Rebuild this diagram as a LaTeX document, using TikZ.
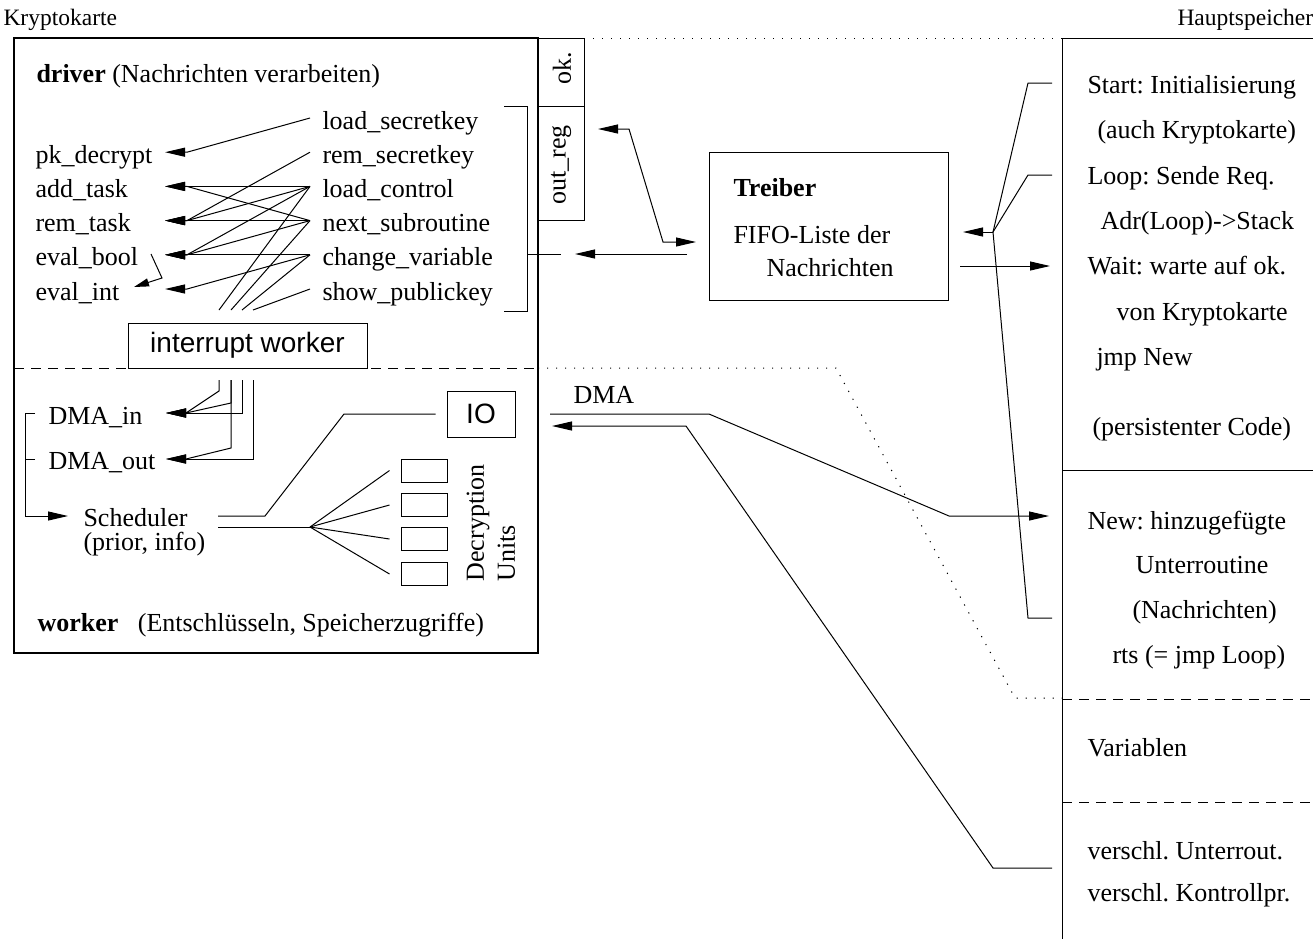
\documentclass[tikz,border=0pt]{standalone}
\usepackage{fontspec}
\setmainfont{Liberation Serif}
\setsansfont{Liberation Sans}
\usetikzlibrary{arrows.meta}
\frenchspacing

\tikzset{
  lbl/.style={anchor=base west, inner sep=0pt},
  titlefont/.style={font=\fontsize{23.5}{28}\selectfont},
  sans/.style={font=\sffamily\fontsize{28}{34}\selectfont},
  arr/.style={-{Triangle[length=20pt,width=9pt]}},
  arrs/.style={-{Triangle[length=15pt,width=8pt]}},
  dashline/.style={dash pattern=on 10pt off 7pt},
  dotline/.style={dash pattern=on 1.2pt off 7.8pt},
}

\begin{document}
\begin{tikzpicture}[x=1pt, y=-1pt, line width=1pt, every node/.style={inner sep=0pt}]
  \fontsize{26}{31}\selectfont
  \useasboundingbox (0,0) rectangle (1313,938);
  % Titles
  \node[lbl, titlefont] (kk) at (3,25) {Kryptokarte};
  \node[lbl, titlefont] (hs) at (1177,25) {Hauptspeicher};
  % Kryptokarte
  \draw[line width=2pt] (14,38) rectangle (538,653);
  \draw (538,38) rectangle (584,106) (538,106) rectangle (584,220);
  \node[rotate=90] (ok) at (562,68) {ok.};
  \node[rotate=90] (outreg) at (561,165) {out\_reg};
  \draw[dotline] (584,38) -- (1062,38);
  % driver
  \node[lbl] (driver) at (36,82) {\textbf{driver} (Nachrichten verarbeiten)};
  \foreach \n/\t [count=\i from 0] in {lsk/load\_secretkey, rsk/rem\_secretkey,
      lctl/load\_control, nsub/next\_subroutine, cvar/change\_variable, spk/show\_publickey} {
    \node[lbl] (\n) at (322,{129+34.2*\i}) {\t};
    \coordinate (\n-o) at (310,{118+34.2*\i});
  }
  \foreach \n/\t [count=\i] in {pk/pk\_decrypt, addt/add\_task, remt/rem\_task,
      evb/eval\_bool, evi/eval\_int} {
    \node[lbl] (\n) at (35,{129+34.2*\i}) {\t};
    \coordinate (\n-t) at (165,{118+34.2*\i});
    \coordinate (\n-b) at (187,{118+34.2*\i});
  }
  \foreach \a/\b in {lsk/pk, rsk/remt, lctl/addt, lctl/remt, lctl/evb,
      nsub/addt, nsub/remt, nsub/evb, cvar/evb, cvar/evi}
    \draw[arr] (\a-o) -- (\b-b) -- (\b-t);
  \coordinate (evb-r) at (151,254);
  \coordinate (evi-r) at (134,287);
  \draw[arrs] (evb-r) -- ++(11,24) -- (evi-r);
  % bracket to out_reg
  \draw (504,106) -| (527,311) -- (504,311);
  \coordinate (drv-r) at (561,254);
  \draw (527,254) -- (drv-r);
  % interrupt worker
  \node[draw, sans, minimum width=239, minimum height=45] (iw) at (247.5,345.5) {interrupt worker};
  \foreach \a/\x [count=\i] in {lctl/219, nsub/231, cvar/242, spk/253} {
    \coordinate (iwt\i) at (\x,310);
    \coordinate (iwb\i) at (\x,380);
    \draw (\a-o) -- (iwt\i);
  }
  % separators
  \draw[dashline] (14,368) -- (538,368);
  \draw[dotline] (538,368) -- (836,368) -- (1015,698) -- (1062,698);
  % worker
  \node[lbl] (dmain) at (48,424) {DMA\_in};
  \node[lbl] (dmaout) at (48,469) {DMA\_out};
  \coordinate (dmain-t) at (166,413);
  \coordinate (dmain-b) at (186,413);
  \coordinate (dmaout-t) at (166,459);
  \coordinate (dmaout-b) at (186,459);
  \draw[arr] (iwb1) -- ++(0,11) -- (dmain-b) -- (dmain-t);
  \draw[arr] (iwb2) -- ++(0,23) -- (dmain-b) -- (dmain-t);
  \draw[arr] (iwb2) -- ++(0,68) -- (dmaout-b) -- (dmaout-t);
  \draw[arr] (iwb3) |- (dmain-t);
  \draw[arr] (iwb4) |- (dmaout-t);
  \node[lbl] (sched) at (83,526) {Scheduler};
  \node[lbl] (prior) at (83,550) {(prior, info)};
  \coordinate (dmain-l) at (35,413);
  \coordinate (dmaout-l) at (35,459);
  \coordinate (sched-in) at (68,516);
  \draw[arr] (dmain-l) -- (25,413) |- (sched-in);
  \draw (dmaout-l) -- (25,459);
  \node[draw, sans, minimum width=68, minimum height=46] (io) at (481,414) {IO};
  \coordinate (sched-up) at (218,516);
  \coordinate (sched-lo) at (218,527);
  \coordinate (fan) at (310,527);
  \draw (sched-up) -- ++(47,0) -- (344,414) -- ([xshift=-11pt]io.west);
  \draw (sched-lo) -- (fan);
  \foreach \y [count=\i] in {470.5,505,539,574} {
    \node[draw, minimum width=46, minimum height=23] (du\i) at (424,\y) {};
    \draw (fan) -- ([xshift=-11pt]du\i.west);
  }
  \node[rotate=90, align=left, font=\fontsize{26}{31}\selectfont] (dulbl) at (491,523) {Decryption\\Units};
  \node[lbl] (worker) at (37,631) {\textbf{worker}\hspace{13pt} (Entschlüsseln, Speicherzugriffe)};
  % Treiber
  \node[draw, minimum width=239, minimum height=148] (treiber) at (828.5,226) {};
  \node[lbl, font=\bfseries] (tname) at (733,196) {Treiber};
  \node[lbl] (fifo) at (733,243) {FIFO-Liste der};
  \node[lbl] (nachr) at (766,276) {Nachrichten};
  \coordinate (outreg-t) at (598,129);
  \coordinate (tr-l) at (696,242);
  \draw[{Triangle[length=20pt,width=9pt]}-{Triangle[length=20pt,width=9pt]}]
    (outreg-t) -- (629,129) -- (663,242) -- (tr-l);
  \coordinate (tr-w) at (687,254);
  \coordinate (drv-t) at (575,254);
  \draw[arr] (tr-w) -- (drv-t);
  % Hauptspeicher
  \draw (1062,945) -- (1062,38) -- (1320,38);
  \draw (1062,470) -- (1320,470);
  \draw[dashline] (1062,699) -- (1320,699);
  \draw[dashline] (1062,802) -- (1320,802);
  \foreach \n/\x/\y/\t in {start/1087/85/Start: Initialisierung, auch/1097/130/(auch Kryptokarte),
      loop/1087/176/Loop: Sende Req., adr/1100/221/Adr(Loop)->Stack,
      wait/1087/266/Wait: warte auf ok., von/1116/312/von Kryptokarte,
      jmp/1096/357/jmp New, pers/1092/427/(persistenter Code),
      new/1087/521/New: hinzugefügte, unter/1135/565/Unterroutine,
      nach/1132/610/(Nachrichten), rts/1112/655/rts (= jmp Loop),
      var/1087/748/Variablen, vu/1087/851/verschl. Unterrout., vk/1087/893/verschl. Kontrollpr.}
    \node[lbl] (\n) at (\x,{\y+8}) {\t};
  % connectors to Hauptspeicher
  \coordinate (jct) at (993,232);
  \coordinate (hs-start) at (1052,83);
  \coordinate (hs-loop) at (1052,175);
  \coordinate (hs-nach) at (1052,618);
  \coordinate (tr-in) at (963,232);
  \coordinate (tr-out) at (960,266);
  \coordinate (hs-wait) at (1050,266);
  \draw (jct) -- (1028,83) -- (hs-start);
  \draw (jct) -- (1028,175) -- (hs-loop);
  \draw (jct) -- (1028,618) -- (hs-nach);
  \draw[arr] (jct) -- (tr-in);
  \draw[arr] (tr-out) -- (hs-wait);
  % DMA
  \node[lbl] (dma) at (573,403) {DMA};
  \coordinate (dma-l) at (550,414);
  \coordinate (hs-new) at (1049,516);
  \coordinate (dma-t) at (552,426);
  \coordinate (hs-vs) at (1052,868);
  \draw[arr] (dma-l) -- (709,414) -- (949,516) -- (hs-new);
  \draw[arr] (hs-vs) -- (993,868) -- (686,426) -- (dma-t);
\end{tikzpicture}
\end{document}
